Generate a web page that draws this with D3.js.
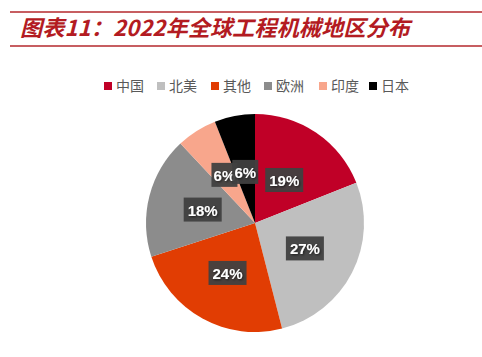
<!DOCTYPE html>
<html><head><meta charset="utf-8">
<script src="https://cdn.jsdelivr.net/npm/d3@7"></script>
<style>body{margin:0;background:#fff}svg{display:block}</style>
</head><body>
<script>
const categories = ["中国","北美","其他","欧洲","印度","日本"];
const values = [19,27,24,18,6,6];
const colors = ["#C00027","#BFBFBF","#E13D03","#8C8C8C","#F8A68C","#000000"];
const title = "图表11：2022年全球工程机械地区分布";

const W=482,H=357;
const svg=d3.select("body").append("svg").attr("width",W).attr("height",H);
svg.append("line").attr("x1",10).attr("x2",W).attr("y1",12).attr("y2",12).attr("stroke","#B5292D").attr("stroke-width",1.6);
svg.append("line").attr("x1",10).attr("x2",W).attr("y1",46).attr("y2",46).attr("stroke","#B5292D").attr("stroke-width",1.6);
svg.append("text").attr("x",20).attr("y",36).text(title)
  .attr("font-family","Noto Sans CJK SC").attr("font-size",22).attr("font-weight","bold").attr("font-style","italic")
  .attr("fill","#B31B22").attr("textLength",390).attr("lengthAdjust","spacingAndGlyphs");

// legend
const lx=[104,157,211,264,319,369];
const lg=svg.append("g").selectAll("g").data(categories).join("g").attr("transform",(d,i)=>`translate(${lx[i]},86)`);
lg.append("rect").attr("x",0).attr("y",-4).attr("width",8).attr("height",8).attr("fill",(d,i)=>colors[i]);
lg.append("text").attr("x",12).attr("y",5).text(d=>d).attr("font-family","Noto Sans CJK SC").attr("font-size",14).attr("fill","#595959");

const cx=255,cy=223,R=109;
const pie=d3.pie().sort(null).value(d=>d)(values);
const arc=d3.arc().innerRadius(0).outerRadius(R);
const g=svg.append("g").attr("transform",`translate(${cx},${cy})`);
g.selectAll("path").data(pie).join("path").attr("d",arc).attr("fill",(d,i)=>colors[i]);

const defs=svg.append("defs");
const f=defs.append("filter").attr("id","sh").attr("x","-20%").attr("y","-20%").attr("width","140%").attr("height","140%");
f.append("feDropShadow").attr("dx",1).attr("dy",1).attr("stdDeviation",0.8).attr("flood-color","#000").attr("flood-opacity",0.6);

const lr=[52,56,57,54,57,52];
const la=d3.arc().innerRadius(0).outerRadius(1);
const labels=g.selectAll("g.l").data(pie).join("g").attr("class","l")
  .attr("transform",(d,i)=>{const a=(d.startAngle+d.endAngle)/2;return `translate(${Math.sin(a)*lr[i]},${-Math.cos(a)*lr[i]})`;});
const bw=[38,38,38,38,26,26];
labels.append("rect").attr("x",(d,i)=>-bw[i]/2).attr("y",-12).attr("width",(d,i)=>bw[i]).attr("height",24).attr("fill","#404040").attr("opacity",0.95);
labels.append("text").attr("text-anchor","middle").attr("y",6).text(d=>d.data+"%")
  .attr("font-family","Liberation Sans, Arial").attr("font-weight","bold").attr("font-size",15).attr("fill","#fff").attr("filter","url(#sh)");
</script>
</body></html>
